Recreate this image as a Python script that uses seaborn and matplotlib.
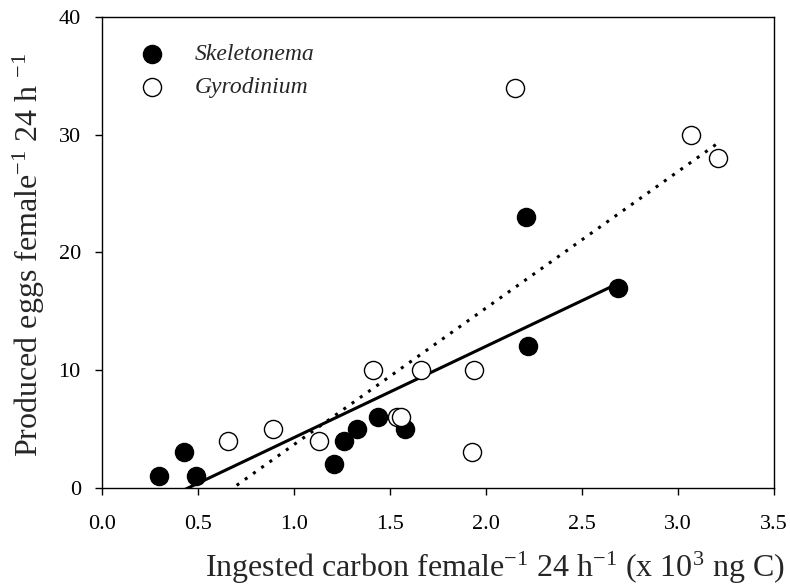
import numpy as np
import pandas as pd
import matplotlib
matplotlib.use("Agg")
import matplotlib.pyplot as plt
import seaborn as sns

sns.set_style("ticks")
plt.rcParams["font.family"] = ["Liberation Serif", "DejaVu Serif"]
plt.rcParams["mathtext.fontset"] = "custom"
plt.rcParams["mathtext.rm"] = "Liberation Serif"
plt.rcParams["mathtext.it"] = "Liberation Serif:italic"

# Skeletonema (filled circles)
skel_x = [0.30, 0.43, 0.49, 1.21, 1.26, 1.33, 1.44, 1.58, 2.22, 2.21, 2.69]
skel_y = [1, 3, 1, 2, 4, 5, 6, 5, 12, 23, 17]

# Gyrodinium (open circles)
gyro_x = [0.66, 0.89, 1.13, 1.41, 1.54, 1.56, 1.66, 1.94, 1.93, 2.15, 3.07, 3.21]
gyro_y = [4, 5, 4, 10, 6, 6, 10, 10, 3, 34, 30, 28]

x_ticks = [0.0, 0.5, 1.0, 1.5, 2.0, 2.5, 3.0, 3.5]
y_ticks = [0, 10, 20, 30, 40]

skel = pd.DataFrame({"x": skel_x, "y": skel_y})
gyro = pd.DataFrame({"x": gyro_x, "y": gyro_y})

fig = plt.figure(figsize=(7.9, 5.88), dpi=100)
ax = fig.add_axes([0.1287, 0.1706, 0.851, 0.8005])

# regression lines (least squares, drawn over each data range)
sns.regplot(data=skel, x="x", y="y", ax=ax, ci=None, truncate=True, scatter=False,
            line_kws={"color": "black", "lw": 2.2, "ls": "-"})
sns.regplot(data=gyro, x="x", y="y", ax=ax, ci=None, truncate=True, scatter=False,
            line_kws={"color": "black", "lw": 2.2, "ls": (0, (1, 2.3))})

# points
sns.scatterplot(data=skel, x="x", y="y", ax=ax, s=170, color="black",
                edgecolor="black", linewidth=1, label="Skeletonema", zorder=3)
sns.scatterplot(data=gyro, x="x", y="y", ax=ax, s=170, facecolor="white",
                edgecolor="black", linewidth=1, label="Gyrodinium", zorder=3)

ax.set_xlim(0, 3.5)
ax.set_ylim(0, 40)
ax.set_xticks(x_ticks)
ax.set_xticklabels([f"{t:.1f}" for t in x_ticks])
ax.set_yticks(y_ticks)
ax.tick_params(direction="out", length=5, width=1, labelsize=16, colors="black")
ax.tick_params(axis="x", pad=15)
ax.tick_params(axis="y", pad=10)
for s in ax.spines.values():
    s.set_linewidth(1)
    s.set_color("black")

ax.set_xlabel("Ingested carbon female$^{-1}$ 24 h$^{-1}$ (x 10$^{3}$ ng C)", fontsize=23)
ax.xaxis.set_label_coords(0.585, -0.133)
ax.set_ylabel("Produced eggs female$^{-1}$ 24 h $^{-1}$", fontsize=23)
ax.yaxis.set_label_coords(-0.081, 0.494)

leg = ax.legend(loc="upper left", frameon=False, prop={"style": "italic", "size": 17},
                borderaxespad=0.0, handletextpad=0.83, labelspacing=0.5, borderpad=0.0)
leg.set_bbox_to_anchor((0.0396, 0.944), transform=ax.transAxes)

fig.savefig("out.png", dpi=100)
